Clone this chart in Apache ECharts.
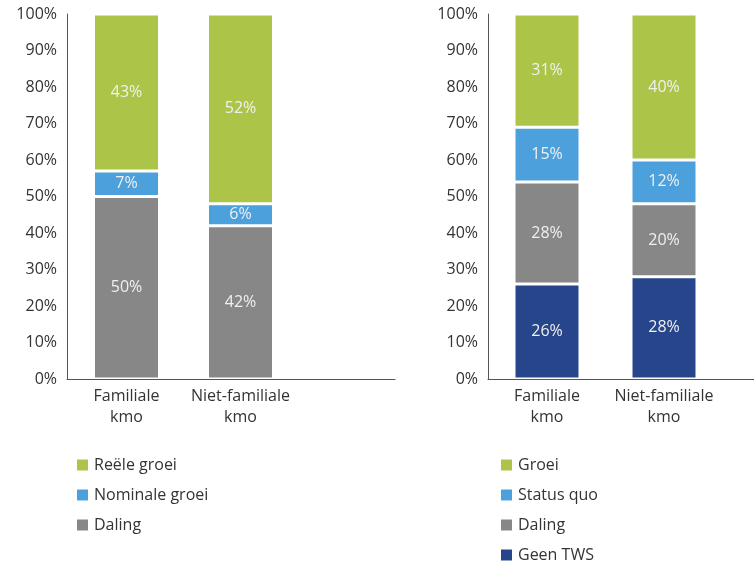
<!DOCTYPE html>
<html>
<head>
<meta charset="utf-8">
<title>kmo groei</title>
<script src="https://cdn.jsdelivr.net/npm/echarts@6/dist/echarts.min.js"></script>
<style>
html,body{margin:0;padding:0;background:#fff;}
#chart{width:754px;height:564px;}
</style>
</head>
<body>
<div id="chart"></div>
<script>
var cats = ["Familiale\nkmo", "Niet-familiale\nkmo"];

// linker grafiek
var daling1 = [50, 42];
var nominaal = [7, 6];
var reeel = [43, 52];

// rechter grafiek
var geenTws = [26, 28];
var daling2 = [28, 20];
var statusQuo = [15, 12];
var groei = [31, 40];

var yTicks = [0, 100, 10];

var groen = "#acc548", blauw = "#4ca0dc", grijs = "#878787", navy = "#26458a";
var font = "Open Sans";
var lijn = {color: "#555", width: 1};

function balk(naam, data, kleur, as, stapel) {
	return {
		name: naam,
		type: "bar",
		stack: stapel,
		xAxisIndex: as,
		yAxisIndex: as,
		barWidth: 66,
		data: data,
		itemStyle: {color: kleur, borderColor: "#fff", borderWidth: 1.5},
		label: {
			show: true,
			position: "inside",
			formatter: "{c}%",
			color: "#f0f0f0",
			fontSize: 16,
			fontFamily: font
		}
	};
}

// assen van de grids met balken: alleen categorielabels
function xas(grid) {
	return {
		type: "category",
		gridIndex: grid,
		data: cats,
		axisLine: {show: false},
		axisTick: {show: false},
		axisLabel: {color: "#333", fontSize: 16, fontFamily: font, lineHeight: 21, margin: 7, interval: 0}
	};
}
function yas(grid, zichtbaar) {
	return {
		type: "value",
		gridIndex: grid,
		min: yTicks[0],
		max: yTicks[1],
		interval: yTicks[2],
		show: zichtbaar,
		splitLine: {show: false},
		axisTick: {show: false},
		axisLine: {show: true, lineStyle: lijn},
		axisLabel: {formatter: "{value}%", color: "#333", fontSize: 16, fontFamily: font, margin: 10}
	};
}
// lange x-as lijn (loopt verder door dan de balken)
function lijnas(grid) {
	return {
		type: "value",
		gridIndex: grid,
		min: 0,
		max: 1,
		splitLine: {show: false},
		axisTick: {show: false},
		axisLabel: {show: false},
		axisLine: {show: true, onZero: false, lineStyle: lijn}
	};
}

function legenda(links, items) {
	return {
		orient: "vertical",
		left: links,
		top: 457,
		padding: 0,
		itemWidth: 13,
		itemHeight: 13,
		itemGap: 14,
		icon: "rect",
		selectedMode: false,
		data: items,
		textStyle: {color: "#333", fontSize: 16, fontFamily: font, lineHeight: 16}
	};
}

var chart = echarts.init(document.getElementById("chart"));
var option = {
	animation: false,
	grid: [
		{left: 69.5, top: 14, width: 228, bottom: 185},
		{left: 488.5, top: 14, width: 234, bottom: 185},
		{left: 67, top: 14, width: 328, bottom: 185},
		{left: 488, top: 14, right: 0, bottom: 185}
	],
	xAxis: [xas(0), xas(1), lijnas(2), lijnas(3)],
	yAxis: [yas(0, false), yas(1, false), yas(2, true), yas(3, true)],
	legend: [
		legenda(75, ["Reële groei", "Nominale groei", "Daling"]),
		legenda(499, ["Groei", "Status quo", "Daling ", "Geen TWS"])
	],
	series: [
		balk("Daling", daling1, grijs, 0, "a"),
		balk("Nominale groei", nominaal, blauw, 0, "a"),
		balk("Reële groei", reeel, groen, 0, "a"),
		balk("Geen TWS", geenTws, navy, 1, "b"),
		balk("Daling ", daling2, grijs, 1, "b"),
		balk("Status quo", statusQuo, blauw, 1, "b"),
		balk("Groei", groei, groen, 1, "b")
	]
};
chart.setOption(option);
</script>
</body>
</html>
